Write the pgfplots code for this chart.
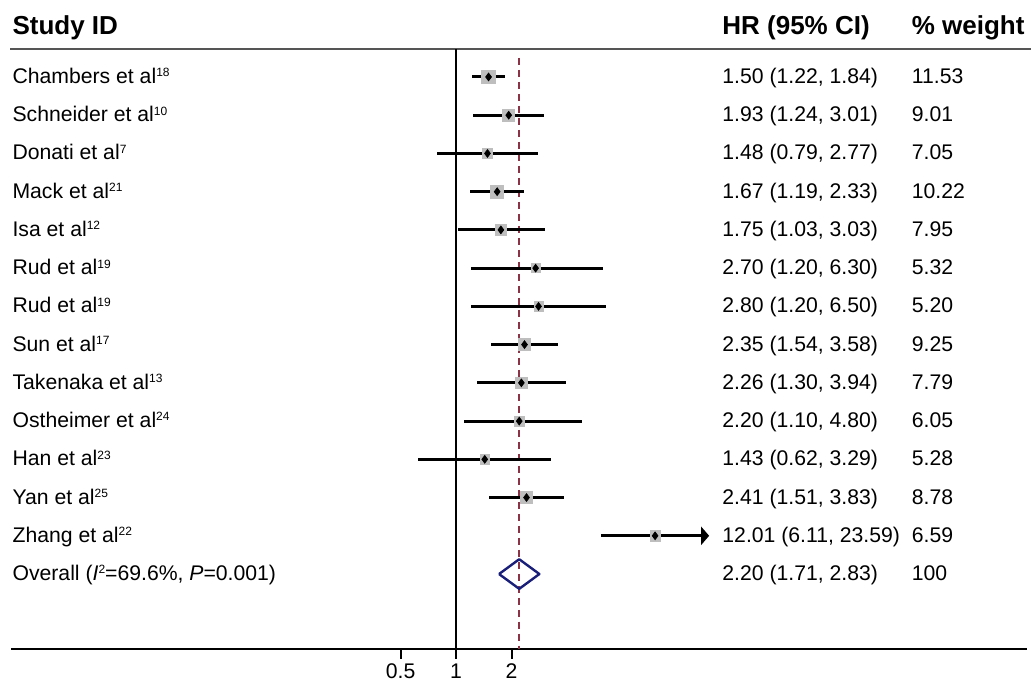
\documentclass[border=0pt]{standalone}
\usepackage{fontspec}
\setmainfont{Liberation Sans}
\usepackage{pgfplots}
\pgfplotsset{compat=1.18}
\usepackage{pgfplotstable}
\usetikzlibrary{arrows.meta}

\definecolor{sqgray}{RGB}{190,190,190}
\definecolor{ovblue}{RGB}{25,30,120}
\definecolor{refred}{RGB}{140,50,70}
\definecolor{hdgray}{RGB}{85,85,85}

\newcommand\bodyfont{\fontsize{10.6pt}{12.7pt}\selectfont}
\newcommand\headfont{\fontsize{13pt}{15.6pt}\selectfont\bfseries}
\newcommand\refsup[1]{\raisebox{3.3pt}{\fontsize{6pt}{7pt}\selectfont #1}}

% row, HR, lower, upper, weight
\pgfplotstableread{
row hr lo hi w
1 1.50 1.22 1.84 11.53
2 1.93 1.24 3.01 9.01
3 1.48 0.79 2.77 7.05
4 1.67 1.19 2.33 10.22
5 1.75 1.03 3.03 7.95
6 2.70 1.20 6.30 5.32
7 2.80 1.20 6.50 5.20
8 2.35 1.54 3.58 9.25
9 2.26 1.30 3.94 7.79
10 2.20 1.10 4.80 6.05
11 1.43 0.62 3.29 5.28
12 2.41 1.51 3.83 8.78
13 12.01 6.11 23.59 6.59
}\studies

\tikzset{txt/.style={anchor=base west, inner sep=0pt, font=\bodyfont},
         hdr/.style={anchor=base west, inner sep=0pt, font=\headfont}}

\begin{document}
\begin{tikzpicture}
\begin{axis}[
  scale only axis, width=508pt, height=324.5pt,
  xmode=log, log basis x=2,
  xmin=0.003867, xmax=1250,
  ymin=-15.954, ymax=1.013,
  axis x line*=bottom, axis y line=none,
  axis line style={line width=1pt, black},
  xtick={0.5,1,2}, xticklabels={0.5,1,2}, xminorticks=false,
  tick align=outside, major tick length=5pt,
  tick style={line width=1pt, black},
  ticklabel style={font=\bodyfont},
  xticklabel style={yshift=1pt},
  clip=false,
]
% header rule, null line, overall line
\addplot[hdgray, line width=1pt] coordinates {(0.00382,-0.281) (1314,-0.281)};
\addplot[black, line width=1pt] coordinates {(1,-0.281) (1,-15.954)};
\addplot[refred, line width=0.75pt, dash pattern=on 3.5pt off 2.5pt] coordinates {(2.2,-0.503) (2.2,-15.954)};

% weight squares
\addplot[scatter, only marks, mark=square*, point meta=\thisrow{w},
  mark options={draw=sqgray, fill=sqgray},
  scatter/use mapped color={draw=sqgray, fill=sqgray},
  visualization depends on={1.0*sqrt(\thisrow{w}) \as \sz},
  scatter/@pre marker code/.append style={/tikz/mark size=\sz pt}]
  table[x=hr, y expr=-\thisrow{row}] {\studies};

% confidence intervals
\addplot[draw=none, mark=none, skip coords between index={12}{13},
  error bars/.cd, x dir=both, x explicit, error mark=none,
  error bar style={draw=black, line width=1.5pt}]
  table[x=hr, y expr=-\thisrow{row},
        x error plus expr=\thisrow{hi}-\thisrow{hr},
        x error minus expr=\thisrow{hr}-\thisrow{lo}] {\studies};
\addplot[black, line width=1.5pt, -{Triangle[length=4pt, width=9pt]}]
  coordinates {(6.11,-13) (23.59,-13)};

% point estimates
\addplot[only marks, mark=diamond*, mark size=1.9pt, black]
  table[x=hr, y expr=-\thisrow{row}] {\studies};

% overall diamond
\addplot[ovblue, line width=1.2pt, line join=round]
  coordinates {(1.71,-14) (2.2,-13.613) (2.83,-14) (2.2,-14.387) (1.71,-14)};

% headers
\node[hdr] at (axis cs:0.00390625,0.098) {Study ID};
\node[hdr] at (axis cs:27.72,0.098) {HR (95\% CI)};
\node[hdr] at (axis cs:295.5,0.098) {\% weight};

% study labels
\node[txt] at (axis cs:0.00390625,-1.17) {Chambers et al\refsup{18}};
\node[txt] at (axis cs:0.00390625,-2.17) {Schneider et al\refsup{10}};
\node[txt] at (axis cs:0.00390625,-3.17) {Donati et al\refsup{7}};
\node[txt] at (axis cs:0.00390625,-4.17) {Mack et al\refsup{21}};
\node[txt] at (axis cs:0.00390625,-5.17) {Isa et al\refsup{12}};
\node[txt] at (axis cs:0.00390625,-6.17) {Rud et al\refsup{19}};
\node[txt] at (axis cs:0.00390625,-7.17) {Rud et al\refsup{19}};
\node[txt] at (axis cs:0.00390625,-8.17) {Sun et al\refsup{17}};
\node[txt] at (axis cs:0.00390625,-9.17) {Takenaka et al\refsup{13}};
\node[txt] at (axis cs:0.00390625,-10.17) {Ostheimer et al\refsup{24}};
\node[txt] at (axis cs:0.00390625,-11.17) {Han et al\refsup{23}};
\node[txt] at (axis cs:0.00390625,-12.17) {Yan et al\refsup{25}};
\node[txt] at (axis cs:0.00390625,-13.17) {Zhang et al\refsup{22}};
\node[txt] at (axis cs:0.00390625,-14.17) {Overall (\textit{I}\refsup{2}=69.6\%, \textit{P}=0.001)};

% HR (95% CI)
\node[txt] at (axis cs:27.72,-1.17) {1.50 (1.22, 1.84)};
\node[txt] at (axis cs:27.72,-2.17) {1.93 (1.24, 3.01)};
\node[txt] at (axis cs:27.72,-3.17) {1.48 (0.79, 2.77)};
\node[txt] at (axis cs:27.72,-4.17) {1.67 (1.19, 2.33)};
\node[txt] at (axis cs:27.72,-5.17) {1.75 (1.03, 3.03)};
\node[txt] at (axis cs:27.72,-6.17) {2.70 (1.20, 6.30)};
\node[txt] at (axis cs:27.72,-7.17) {2.80 (1.20, 6.50)};
\node[txt] at (axis cs:27.72,-8.17) {2.35 (1.54, 3.58)};
\node[txt] at (axis cs:27.72,-9.17) {2.26 (1.30, 3.94)};
\node[txt] at (axis cs:27.72,-10.17) {2.20 (1.10, 4.80)};
\node[txt] at (axis cs:27.72,-11.17) {1.43 (0.62, 3.29)};
\node[txt] at (axis cs:27.72,-12.17) {2.41 (1.51, 3.83)};
\node[txt] at (axis cs:27.72,-13.17) {12.01 (6.11, 23.59)};
\node[txt] at (axis cs:27.72,-14.17) {2.20 (1.71, 2.83)};

% % weight
\node[txt] at (axis cs:295.5,-1.17) {11.53};
\node[txt] at (axis cs:295.5,-2.17) {9.01};
\node[txt] at (axis cs:295.5,-3.17) {7.05};
\node[txt] at (axis cs:295.5,-4.17) {10.22};
\node[txt] at (axis cs:295.5,-5.17) {7.95};
\node[txt] at (axis cs:295.5,-6.17) {5.32};
\node[txt] at (axis cs:295.5,-7.17) {5.20};
\node[txt] at (axis cs:295.5,-8.17) {9.25};
\node[txt] at (axis cs:295.5,-9.17) {7.79};
\node[txt] at (axis cs:295.5,-10.17) {6.05};
\node[txt] at (axis cs:295.5,-11.17) {5.28};
\node[txt] at (axis cs:295.5,-12.17) {8.78};
\node[txt] at (axis cs:295.5,-13.17) {6.59};
\node[txt] at (axis cs:295.5,-14.17) {100};

\coordinate (bbSW) at (axis cs:0.003355,-16.817);
\coordinate (bbNE) at (axis cs:1314.6,1.013);
\end{axis}
\pgfresetboundingbox
\path[use as bounding box] (bbSW) rectangle (bbNE);
\end{tikzpicture}
\end{document}
